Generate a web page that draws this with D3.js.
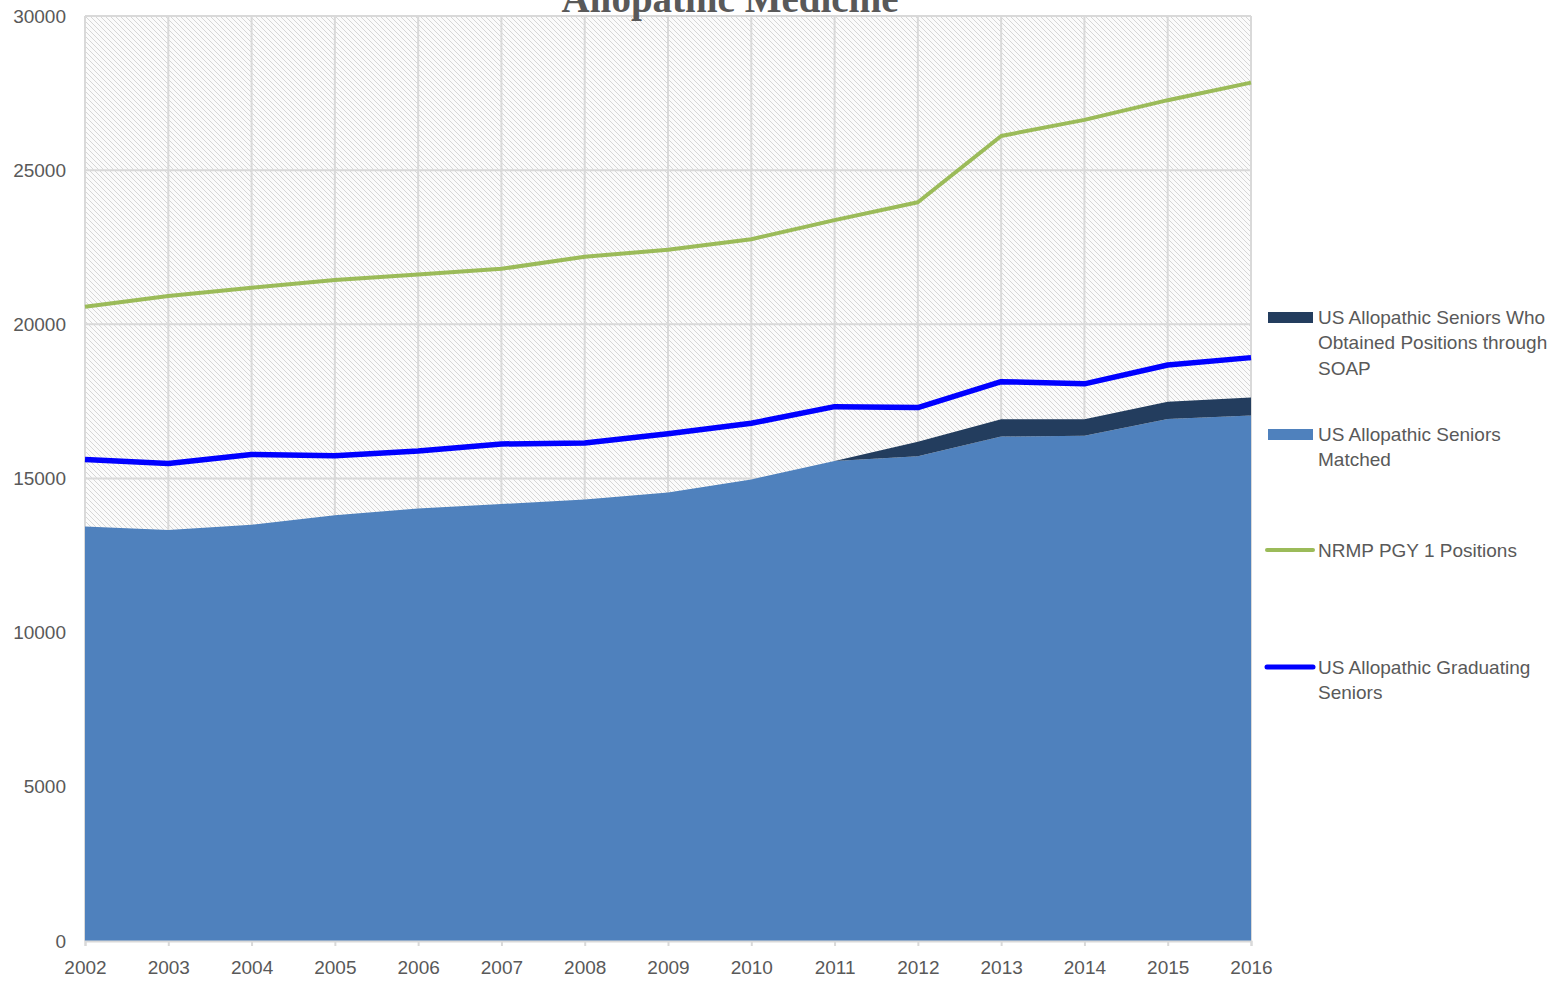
<!DOCTYPE html>
<html>
<head>
<meta charset="utf-8">
<script src="https://cdn.jsdelivr.net/npm/d3@7"></script>
<style>
  body { margin: 0; background: #fff; }
  svg { display: block; }
  .tick text { font-family: "Liberation Sans", Arial, sans-serif; font-size: 19px; fill: #595959; }
</style>
</head>
<body>
<div class="chart"></div>
<script>
const W = 1566, H = 982
const margin = { top: 16, right: 315, bottom: 41, left: 85 }
const innerW = W - margin.left - margin.right
const innerH = H - margin.top - margin.bottom

// data
const years = [2002, 2003, 2004, 2005, 2006, 2007, 2008, 2009, 2010, 2011, 2012, 2013, 2014, 2015, 2016]
const seniorsMatched = [13440, 13330, 13500, 13810, 14030, 14170, 14320, 14550, 14970, 15570, 15720, 16360, 16390, 16930, 17040]
const seniorsSoap = [0, 0, 0, 0, 0, 0, 0, 0, 0, 0, 470, 560, 530, 560, 590]
const pgy1Positions = [20570, 20920, 21190, 21440, 21620, 21800, 22190, 22420, 22760, 23380, 23960, 26110, 26630, 27270, 27840]
const graduatingSeniors = [15620, 15490, 15780, 15740, 15890, 16120, 16150, 16450, 16790, 17330, 17300, 18140, 18070, 18680, 18920]
const yTicks = [0, 5000, 10000, 15000, 20000, 25000, 30000]

const legendItems = [
  { kind: 'rect', color: '#233d5e', lines: ['US Allopathic Seniors Who', 'Obtained Positions through', 'SOAP'] },
  { kind: 'rect', color: '#4f81bd', lines: ['US Allopathic Seniors', 'Matched'] },
  { kind: 'line', color: '#9bbb59', width: 4, lines: ['NRMP PGY 1 Positions'] },
  { kind: 'line', color: '#0000ff', width: 5, lines: ['US Allopathic Graduating', 'Seniors'] }
]

const rows = years.map((y, i) => ({
  year: y,
  matched: seniorsMatched[i],
  soap: seniorsSoap[i],
  positions: pgy1Positions[i],
  graduating: graduatingSeniors[i]
}))

const svg = d3.select('.chart').append('svg')
  .attr('width', W)
  .attr('height', H)

// hatch background
const defs = svg.append('defs')
const pat = defs.append('pattern')
  .attr('id', 'hatch')
  .attr('patternUnits', 'userSpaceOnUse')
  .attr('width', 5)
  .attr('height', 5)
pat.append('rect').attr('width', 5).attr('height', 5).attr('fill', '#fbfbfb')
pat.append('path')
  .attr('d', 'M-1,-1 L6,6 M-1,4 L1,6 M4,-1 L6,1')
  .attr('stroke', '#d6d6d6')
  .attr('stroke-width', 1)

const g = svg.append('g').attr('transform', `translate(${margin.left},${margin.top})`)

const x = d3.scaleLinear().domain([2002, 2016]).range([0, innerW])
const y = d3.scaleLinear().domain([0, 30000]).range([innerH, 0])

g.append('rect')
  .attr('width', innerW)
  .attr('height', innerH)
  .attr('fill', 'url(#hatch)')

// gridlines
g.append('g').selectAll('line').data(yTicks).join('line')
  .attr('x1', 0).attr('x2', innerW)
  .attr('y1', d => y(d)).attr('y2', d => y(d))
  .attr('stroke', '#d9d9d9').attr('stroke-width', 2)
g.append('g').selectAll('line').data(years).join('line')
  .attr('x1', d => x(d)).attr('x2', d => x(d))
  .attr('y1', 0).attr('y2', innerH)
  .attr('stroke', '#d9d9d9').attr('stroke-width', 2)

// stacked areas
const stack = d3.stack().keys(['matched', 'soap'])
const series = stack(rows)
const areaColors = { matched: '#4f81bd', soap: '#233d5e' }
const area = d3.area()
  .x(d => x(d.data.year))
  .y0(d => y(d[0]))
  .y1(d => y(d[1]))
g.selectAll('.area').data(series).join('path')
  .attr('class', 'area')
  .attr('d', area)
  .attr('fill', d => areaColors[d.key])

// lines
const line = key => d3.line().x(d => x(d.year)).y(d => y(d[key]))
g.append('path').datum(rows)
  .attr('d', line('positions'))
  .attr('fill', 'none')
  .attr('stroke', '#9bbb59')
  .attr('stroke-width', 4)
  .attr('stroke-linejoin', 'round')
g.append('path').datum(rows)
  .attr('d', line('graduating'))
  .attr('fill', 'none')
  .attr('stroke', '#0000ff')
  .attr('stroke-width', 5.5)
  .attr('stroke-linejoin', 'round')

// axes
const xAxis = d3.axisBottom(x).tickValues(years).tickFormat(d3.format('d')).tickSize(5).tickPadding(15)
const gx = g.append('g').attr('transform', `translate(0,${innerH})`).call(xAxis)
gx.select('.domain').attr('stroke', '#d9d9d9').attr('stroke-width', 2)
gx.selectAll('.tick line').attr('stroke', '#d9d9d9').attr('stroke-width', 2)

const yAxis = d3.axisLeft(y).tickValues(yTicks).tickFormat(d3.format('d')).tickSize(0).tickPadding(19)
const gy = g.append('g').call(yAxis)
gy.select('.domain').remove()

// title (cut off at the top, as in the source)
svg.append('text')
  .attr('x', 730)
  .attr('y', 12)
  .attr('text-anchor', 'middle')
  .style('font-family', '"Liberation Serif", "Times New Roman", serif')
  .style('font-weight', 'bold')
  .style('font-size', '39px')
  .style('fill', '#595959')
  .text('Allopathic Medicine')

// legend
const legendTops = [317, 434, 550, 667]
const lg = svg.append('g')
legendItems.forEach((item, i) => {
  const cy = legendTops[i]
  if (item.kind === 'rect') {
    lg.append('rect')
      .attr('x', 1268).attr('y', cy - 5)
      .attr('width', 45).attr('height', 11)
      .attr('fill', item.color)
  } else {
    lg.append('line')
      .attr('x1', 1267).attr('x2', 1313)
      .attr('y1', cy).attr('y2', cy)
      .attr('stroke', item.color)
      .attr('stroke-width', item.width)
      .attr('stroke-linecap', 'round')
  }
  item.lines.forEach((t, j) => {
    lg.append('text')
      .attr('x', 1318)
      .attr('y', cy + j * 25.5)
      .attr('dy', '0.35em')
      .style('font-family', '"Liberation Sans", Arial, sans-serif')
      .style('font-size', '19px')
      .style('fill', '#595959')
      .text(t)
  })
})
</script>
</body>
</html>
